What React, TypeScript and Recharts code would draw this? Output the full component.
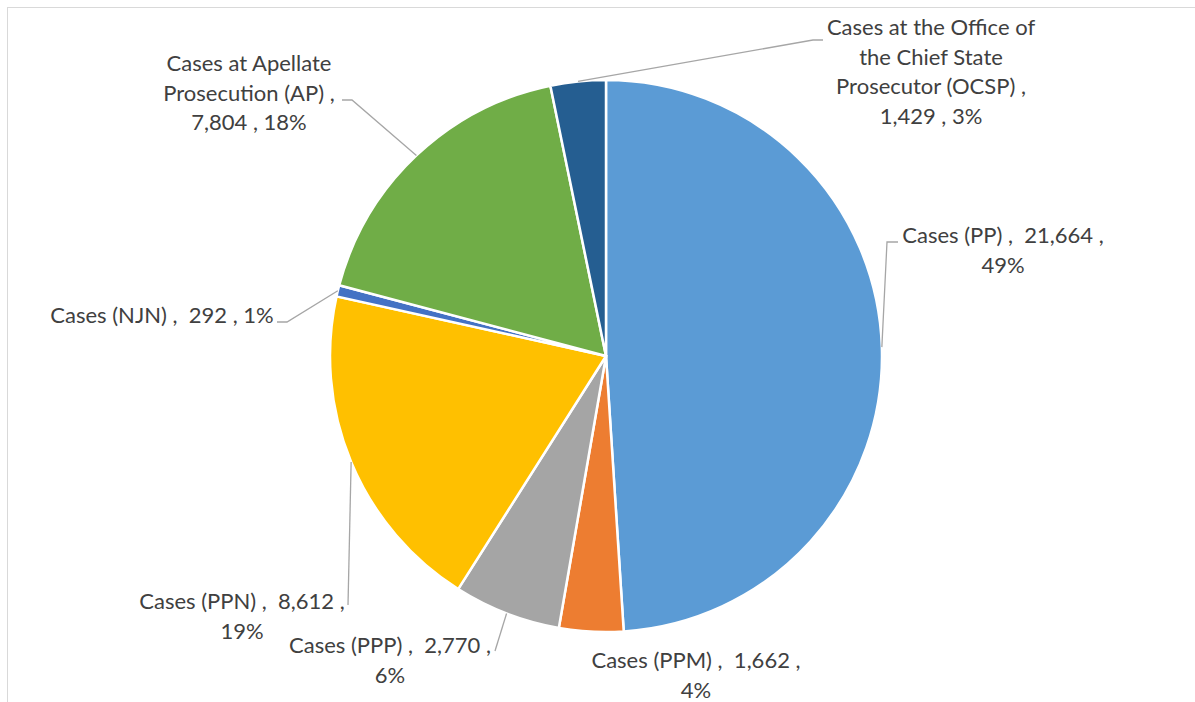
import React from "react";
import { PieChart, Pie, Cell } from "recharts";

const CATEGORIES = [
  "Cases (PP)",
  "Cases (PPM)",
  "Cases (PPP)",
  "Cases (PPN)",
  "Cases (NJN)",
  "Cases at Apellate Prosecution (AP)",
  "Cases at the Office of the Chief State Prosecutor (OCSP)",
];
const VALUES = [21664, 1662, 2770, 8612, 292, 7804, 1429];
const COLORS = ["#5B9BD5", "#ED7D31", "#A5A5A5", "#FFC000", "#4472C4", "#70AD47", "#255E91"];
const LABEL_WRAP = [22, 22, 22, 22, 24, 20, 22];

// label layout: text center x, first line visual center y, leader elbow points
const LABEL_LAYOUT = [
  { x: 1003, y: 235, pts: [[887, 242], [898, 242]] },
  { x: 696, y: 660, pts: [] },
  { x: 390, y: 645, pts: [[495, 651]] },
  { x: 242, y: 601, pts: [[348, 605]] },
  { x: 162, y: 315, pts: [[287, 322], [277, 322]] },
  { x: 249, y: 63, pts: [[352, 100], [342, 100]] },
  { x: 931, y: 27, pts: [[813, 40], [823, 40]] },
];

const TOTAL = VALUES.reduce((a, b) => a + b, 0);
const DATA = CATEGORIES.map((name, i) => ({ name, value: VALUES[i] }));

const FONT = "Lato, 'Open Sans', sans-serif";
const FONT_SIZE = 22;
const LINE_H = 29.5;

function wrap(text: string, max: number): string[] {
  const tokens = text.split(" ");
  const lines: string[] = [];
  let cur = "";
  for (const t of tokens) {
    if (cur === "") {
      if (t === "") continue;
      cur = t;
      continue;
    }
    const cand = cur + " " + t;
    if (cand.trimEnd().length <= max) {
      cur = cand;
    } else {
      lines.push(cur.trimEnd());
      cur = t;
    }
  }
  if (cur) lines.push(cur.trimEnd());
  return lines;
}

const renderLabel = (props: any) => {
  const { cx, cy, midAngle, outerRadius, index } = props;
  const RAD = Math.PI / 180;
  const sx = cx + outerRadius * Math.cos(-midAngle * RAD);
  const sy = cy + outerRadius * Math.sin(-midAngle * RAD);
  const lay = LABEL_LAYOUT[index];
  const pct = Math.round((VALUES[index] / TOTAL) * 100);
  const full = `${CATEGORIES[index]} ,  ${VALUES[index].toLocaleString("en-US")} , ${pct}%`;
  const lines = wrap(full, LABEL_WRAP[index]);
  const pts = [[sx, sy], ...lay.pts];
  return (
    <g key={`lbl-${index}`}>
      {lay.pts.length > 0 && (
        <polyline
          points={pts.map((p) => p.join(",")).join(" ")}
          fill="none"
          stroke="#A6A6A6"
          strokeWidth={1.3}
        />
      )}
      <text
        x={lay.x}
        textAnchor="middle"
        fill="#404040"
        fontFamily={FONT}
        fontSize={FONT_SIZE}
        style={{ whiteSpace: "pre" }}
        xmlSpace="preserve"
      >
        {lines.map((ln, i) => (
          <tspan key={i} x={lay.x} y={lay.y + i * LINE_H + 8}>
            {ln}
          </tspan>
        ))}
      </text>
    </g>
  );
};

export default function App() {
  return (
    <div
      style={{
        position: "absolute",
        left: 0,
        top: 0,
        width: 1195,
        height: 702,
        overflow: "hidden",
        background: "#fff",
      }}
    >
      <div
        style={{
          position: "absolute",
          left: 7,
          top: 7,
          width: 1300,
          height: 800,
          border: "1px solid #D9D9D9",
        }}
      />
      <div style={{ position: "absolute", left: 0, top: 0 }}>
        <PieChart width={1195} height={702} margin={{ top: 0, right: 0, bottom: 0, left: 0 }}>
          <Pie
            data={DATA}
            dataKey="value"
            nameKey="name"
            cx={606}
            cy={356}
            outerRadius={276}
            startAngle={90}
            endAngle={-270}
            stroke="#FFFFFF"
            strokeWidth={2.5}
            label={renderLabel}
            labelLine={false}
            isAnimationActive={false}
          >
            {DATA.map((d, i) => (
              <Cell key={d.name} fill={COLORS[i]} />
            ))}
          </Pie>
        </PieChart>
      </div>
    </div>
  );
}
